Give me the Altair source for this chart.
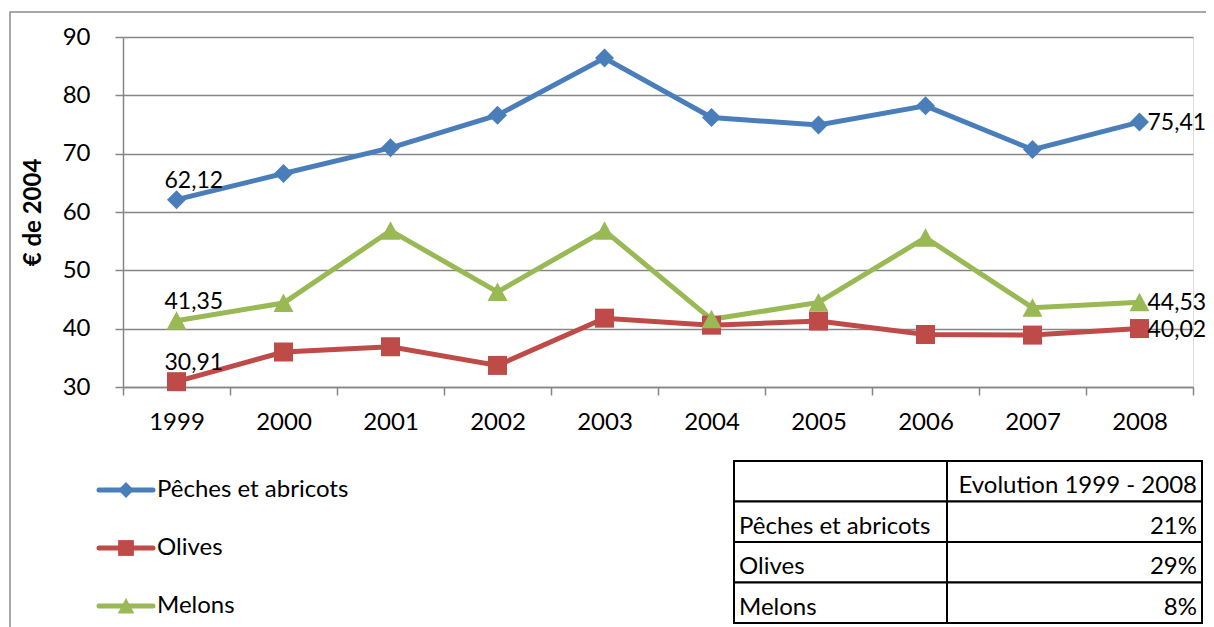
import altair as alt
import pandas as pd

# ---------------- data ----------------
years = ["1999", "2000", "2001", "2002", "2003", "2004", "2005", "2006", "2007", "2008"]
series = ["Pêches et abricots", "Olives", "Melons"]
peches = [62.12, 66.6, 71.0, 76.6, 86.4, 76.2, 74.9, 78.2, 70.7, 75.41]
olives = [30.91, 36.0, 36.9, 33.7, 41.8, 40.6, 41.3, 39.0, 38.9, 40.02]
melons = [41.35, 44.4, 56.8, 46.3, 56.8, 41.6, 44.5, 55.6, 43.6, 44.53]
y_ticks = [30, 40, 50, 60, 70, 80, 90]
table_header = "Evolution 1999 - 2008"
evolution = ["21%", "29%", "8%"]

# ---------------- styles ----------------
FONT = "Lato"
FS = 24
LFS = 23
GRAY = "#868686"
colors = ["#4A7EBB", "#BE4B48", "#98B954"]
shapes = ["diamond", "square", "M0,-1L1.05,0.95L-1.05,0.95Z"]

rows = []
for s, vals in zip(series, [peches, olives, melons]):
    for yr, v in zip(years, vals):
        rows.append({"series": s, "year": yr, "value": v,
                     "label": f"{v:.2f}".replace(".", ",")})
df = pd.DataFrame(rows)

color_scale = alt.Scale(domain=series, range=colors)
shape_scale = alt.Scale(domain=series, range=shapes)

x_enc = alt.X(
    "year:O", sort=years, title=None, bandPosition=0.5,
    scale=alt.Scale(type="band", paddingInner=0, paddingOuter=0),
    axis=alt.Axis(tickBand="extent", labelAngle=0, labelFontSize=FS, labelFont=FONT,
                  labelColor="black", labelPadding=15, tickSize=8, tickColor=GRAY,
                  tickWidth=1.5, domainColor=GRAY, domainWidth=1.5, grid=False),
)
y_enc = alt.Y(
    "value:Q", title="€ de 2004",
    scale=alt.Scale(domain=[30, 90], nice=False, zero=False),
    axis=alt.Axis(values=y_ticks, grid=True, gridColor=GRAY, gridWidth=1.5,
                  tickSize=8, tickColor=GRAY, tickWidth=1.5, domainColor=GRAY,
                  domainWidth=1.5, labelFontSize=FS, labelFont=FONT, labelColor="black",
                  labelPadding=25, titleFontSize=FS, titleFont=FONT, titleFontWeight="bold",
                  titleColor="black", titlePadding=17),
)

base = alt.Chart(df)
lines = base.mark_line(strokeWidth=5).encode(
    x=x_enc, y=y_enc, color=alt.Color("series:N", scale=color_scale, legend=None),
    detail="series:N",
)
points = base.mark_point(filled=True, opacity=1, size=361, strokeWidth=0).encode(
    x=x_enc, y=y_enc,
    color=alt.Color("series:N", scale=color_scale, legend=None),
    shape=alt.Shape("series:N", scale=shape_scale, legend=None),
)
first_labels = alt.Chart(df[df.year == years[0]]).mark_text(
    align="left", baseline="alphabetic", dx=-12, dy=-12, fontSize=LFS, font=FONT, color="black"
).encode(x=x_enc, y=y_enc, text="label:N")
last_labels = alt.Chart(df[df.year == years[-1]]).mark_text(
    align="left", baseline="middle", dx=8, dy=1, fontSize=LFS, font=FONT, color="black"
).encode(x=x_enc, y=y_enc, text="label:N")

main = alt.layer(lines, points, first_labels, last_labels)

# ---------------- legend (drawn as marks) ----------------
ldf = pd.DataFrame({"series": series})
ly = alt.Y("series:N", sort=series, axis=None,
           scale=alt.Scale(type="point", range=[453, 569], padding=0))
lbase = alt.Chart(ldf)
lrule = lbase.mark_rule(strokeWidth=5, strokeCap="round").encode(
    x=alt.value(-24), x2=alt.value(30), y=ly,
    color=alt.Color("series:N", scale=color_scale, legend=None))
lpts = lbase.mark_point(filled=True, opacity=1, size=250, strokeWidth=0).encode(
    x=alt.value(3), y=ly,
    color=alt.Color("series:N", scale=color_scale, legend=None),
    shape=alt.Shape("series:N", scale=shape_scale, legend=None))
ltxt = lbase.mark_text(align="left", baseline="middle", fontSize=FS, font=FONT,
                       color="black").encode(x=alt.value(34), y=ly, text="series:N")
legend_layer = alt.layer(lrule, lpts, ltxt)

# ---------------- table ----------------
col_edges = [0, 213, 468]
row_ids = ["h", "r1", "r2", "r3"]
left_texts = [""] + series
right_texts = [table_header] + evolution
cells = []
for rid, lt, rt in zip(row_ids, left_texts, right_texts):
    cells.append({"row": rid, "x0": col_edges[0], "x1": col_edges[1], "text": lt, "side": "L"})
    cells.append({"row": rid, "x0": col_edges[1], "x1": col_edges[2], "text": rt, "side": "R"})
tdf = pd.DataFrame(cells)

ty = alt.Y("row:N", sort=row_ids, axis=None,
           scale=alt.Scale(type="band", range=[424, 586], paddingInner=0, paddingOuter=0))
tx_scale = alt.Scale(domain=[0, 468], range=[611, 1079])
tbase = alt.Chart(tdf)
trect = tbase.mark_rect(fill="white", stroke="black", strokeWidth=2).encode(
    x=alt.X("x0:Q", scale=tx_scale, axis=None), x2="x1:Q", y=ty)
tleft = tbase.transform_filter(alt.datum.side == "L").mark_text(
    align="left", baseline="middle", dx=5, dy=5, fontSize=FS, font=FONT, color="black"
).encode(x=alt.X("x0:Q", scale=tx_scale, axis=None), y=ty, text="text:N")
tright = tbase.transform_filter(alt.datum.side == "R").mark_text(
    align="right", baseline="middle", dx=-5, dy=5, fontSize=FS, font=FONT, color="black"
).encode(x=alt.X("x1:Q", scale=tx_scale, axis=None), y=ty, text="text:N")
table = alt.layer(trect, tleft, tright)

# ---------------- outer frame ----------------
frame = alt.Chart(pd.DataFrame({"k": [0]})).mark_rect(
    fill="transparent", stroke="#8C8C8C", strokeWidth=1.5
).encode(x=alt.value(-113), x2=alt.value(1400), y=alt.value(-25), y2=alt.value(900))

chart = alt.layer(frame, main, legend_layer, table).resolve_scale(
    x="independent", y="independent"
).properties(
    width=1070, height=350,
    padding={"left": 115, "top": 29, "right": 13, "bottom": 240},
    autosize=alt.AutoSizeParams(type="none"),
).configure_view(stroke=None).configure(font=FONT)

chart.save("out.html", embed_options={"renderer": "svg", "actions": False})
